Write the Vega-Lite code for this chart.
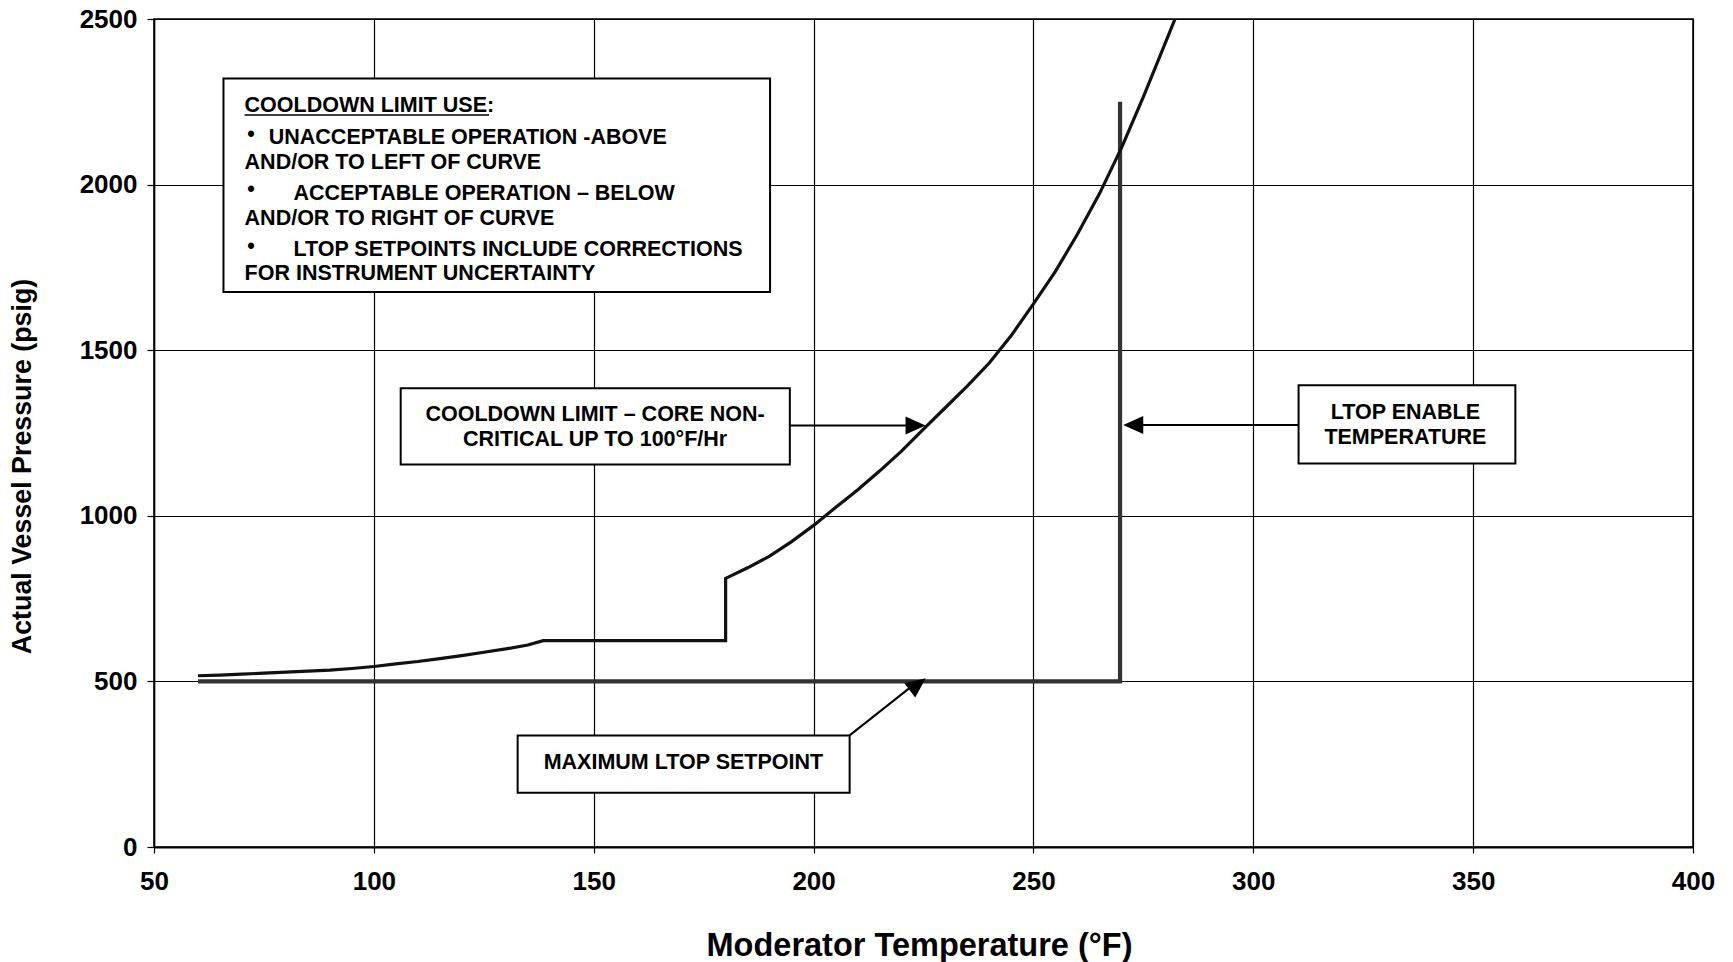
{
  "$schema": "https://vega.github.io/schema/vega-lite/v6.json",
  "width": 1539,
  "height": 828,
  "autosize": {"type": "none"},
  "padding": {"left": 154, "top": 19, "right": 40, "bottom": 115},
  "background": "white",
  "config": {
    "font": "Liberation Sans",
    "view": {"stroke": "#000", "strokeWidth": 1.5}
  },
  "datasets": {
    "curve": [
      {"i": 1, "x": 60, "y": 517},
      {"i": 2, "x": 65, "y": 519},
      {"i": 3, "x": 70, "y": 522},
      {"i": 4, "x": 75, "y": 525},
      {"i": 5, "x": 80, "y": 528},
      {"i": 6, "x": 85, "y": 531},
      {"i": 7, "x": 90, "y": 534},
      {"i": 8, "x": 95, "y": 539},
      {"i": 9, "x": 100, "y": 545},
      {"i": 10, "x": 105, "y": 553},
      {"i": 11, "x": 110, "y": 560},
      {"i": 12, "x": 115, "y": 569},
      {"i": 13, "x": 120, "y": 578},
      {"i": 14, "x": 125, "y": 588},
      {"i": 15, "x": 130, "y": 598},
      {"i": 16, "x": 135, "y": 610},
      {"i": 17, "x": 138.5, "y": 623},
      {"i": 18, "x": 180, "y": 623},
      {"i": 19, "x": 180, "y": 811},
      {"i": 20, "x": 185, "y": 843},
      {"i": 21, "x": 190, "y": 878},
      {"i": 22, "x": 195, "y": 922},
      {"i": 23, "x": 200, "y": 971},
      {"i": 24, "x": 205, "y": 1025},
      {"i": 25, "x": 210, "y": 1078},
      {"i": 26, "x": 215, "y": 1135},
      {"i": 27, "x": 220, "y": 1195},
      {"i": 28, "x": 225, "y": 1262},
      {"i": 29, "x": 230, "y": 1327},
      {"i": 30, "x": 235, "y": 1392},
      {"i": 31, "x": 240, "y": 1462},
      {"i": 32, "x": 245, "y": 1545},
      {"i": 33, "x": 250, "y": 1640},
      {"i": 34, "x": 255, "y": 1738},
      {"i": 35, "x": 260, "y": 1850},
      {"i": 36, "x": 265, "y": 1972},
      {"i": 37, "x": 270, "y": 2110},
      {"i": 38, "x": 275, "y": 2265},
      {"i": 39, "x": 280, "y": 2428},
      {"i": 40, "x": 282.2, "y": 2500}
    ],
    "ltop": [
      {"i": 1, "x": 60, "y": 500},
      {"i": 2, "x": 269.7, "y": 500},
      {"i": 3, "x": 269.7, "y": 2250}
    ],
    "boxes": [
      {"name": "legend", "x": 65.8, "x2": 190.1, "y": 2320, "y2": 1676},
      {"name": "core", "x": 106.1, "x2": 194.6, "y": 1385, "y2": 1155},
      {"name": "enable", "x": 310.3, "x2": 359.6, "y": 1394, "y2": 1158},
      {"name": "max", "x": 132.7, "x2": 208.2, "y": 337, "y2": 164}
    ],
    "arrows": [
      {"name": "core", "x": 194.6, "y": 1273, "x2": 221, "y2": 1273},
      {"name": "enable", "x": 310.3, "y": 1274, "x2": 273, "y2": 1274},
      {"name": "max", "x": 208.2, "y": 337, "x2": 222, "y2": 482}
    ],
    "heads": [
      {"name": "core", "x": 223.2, "y": 1273},
      {"name": "enable", "x": 272.7, "y": 1274},
      {"name": "max", "x": 223.7, "y": 491}
    ],
    "underline": [
      {"x": 70.6, "x2": 126.2, "y": 2210}
    ],
    "legendText": [
      {"x": 70.6, "y": 2236, "t": "COOLDOWN LIMIT USE:"},
      {"x": 71.2, "y": 2150, "t": "•"},
      {"x": 76.1, "y": 2140, "t": "UNACCEPTABLE OPERATION  -ABOVE"},
      {"x": 70.6, "y": 2066, "t": "AND/OR TO LEFT OF CURVE"},
      {"x": 71.2, "y": 1983, "t": "•"},
      {"x": 81.7, "y": 1973, "t": "ACCEPTABLE OPERATION – BELOW"},
      {"x": 70.6, "y": 1896, "t": "AND/OR TO RIGHT OF CURVE"},
      {"x": 71.2, "y": 1812, "t": "•"},
      {"x": 81.7, "y": 1802, "t": "LTOP SETPOINTS INCLUDE CORRECTIONS"},
      {"x": 70.6, "y": 1729, "t": "FOR INSTRUMENT UNCERTAINTY"}
    ],
    "boxText": [
      {"x": 150.3, "y": 1305, "t": "COOLDOWN LIMIT – CORE NON-"},
      {"x": 150.3, "y": 1228, "t": "CRITICAL UP TO 100°F/Hr"},
      {"x": 334.6, "y": 1311, "t": "LTOP ENABLE"},
      {"x": 334.6, "y": 1236, "t": "TEMPERATURE"},
      {"x": 170.4, "y": 254, "t": "MAXIMUM LTOP SETPOINT"}
    ]
  },
  "encoding": {
    "x": {
      "field": "x",
      "type": "quantitative",
      "scale": {"domain": [50, 400], "nice": false, "zero": false},
      "axis": {
        "title": "Moderator Temperature (°F)",
        "values": [50, 100, 150, 200, 250, 300, 350, 400],
        "format": "d",
        "grid": true,
        "gridColor": "#000",
        "gridWidth": 1.2,
        "gridOpacity": 1,
        "domainColor": "#000",
        "domainWidth": 2.2,
        "tickColor": "#000",
        "tickSize": 6,
        "tickWidth": 1.2,
        "labelFont": "Liberation Sans",
        "labelFontSize": 26,
        "labelFontWeight": "bold",
        "labelColor": "#000",
        "labelPadding": 15,
        "labelFlush": false,
        "labelOverlap": false,
        "titleFont": "Liberation Sans",
        "titleFontSize": 32.5,
        "titleFontWeight": "bold",
        "titleColor": "#000",
        "titleX": 765,
        "titleY": 98,
        "titleAlign": "center",
        "titleBaseline": "middle"
      }
    },
    "y": {
      "field": "y",
      "type": "quantitative",
      "scale": {"domain": [0, 2500], "nice": false},
      "axis": {
        "title": "Actual Vessel Pressure (psig)",
        "values": [0, 500, 1000, 1500, 2000, 2500],
        "format": "d",
        "grid": true,
        "gridColor": "#000",
        "gridWidth": 1.2,
        "gridOpacity": 1,
        "domainColor": "#000",
        "domainWidth": 1.5,
        "tickColor": "#000",
        "tickSize": 7,
        "tickWidth": 1.2,
        "labelFont": "Liberation Sans",
        "labelFontSize": 26,
        "labelFontWeight": "bold",
        "labelColor": "#000",
        "labelPadding": 10,
        "labelFlush": false,
        "labelOverlap": false,
        "titleFont": "Liberation Sans",
        "titleFontSize": 26.8,
        "titleFontWeight": "bold",
        "titleColor": "#000",
        "titleAngle": 270,
        "titleX": -132,
        "titleY": 447,
        "titleAlign": "center",
        "titleBaseline": "middle"
      }
    }
  },
  "layer": [
    {
      "data": {"name": "ltop"},
      "mark": {"type": "line", "color": "#333", "strokeWidth": 4.2, "strokeJoin": "miter", "clip": true},
      "encoding": {"order": {"field": "i", "type": "quantitative"}}
    },
    {
      "data": {"name": "curve"},
      "mark": {"type": "line", "color": "#111", "strokeWidth": 3.2, "strokeJoin": "miter", "clip": true},
      "encoding": {"order": {"field": "i", "type": "quantitative"}}
    },
    {
      "data": {"name": "arrows"},
      "mark": {"type": "rule", "color": "#000", "strokeWidth": 2},
      "encoding": {"x2": {"field": "x2"}, "y2": {"field": "y2"}}
    },
    {
      "data": {"name": "heads"},
      "transform": [{"filter": "datum.name === 'core'"}],
      "mark": {"type": "point", "shape": "M1,0L-1,-0.9L-1,0.9Z", "size": 400, "filled": true, "fill": "#000", "opacity": 1, "strokeWidth": 0, "angle": 0}
    },
    {
      "data": {"name": "heads"},
      "transform": [{"filter": "datum.name === 'enable'"}],
      "mark": {"type": "point", "shape": "M1,0L-1,-0.9L-1,0.9Z", "size": 400, "filled": true, "fill": "#000", "opacity": 1, "strokeWidth": 0, "angle": 180}
    },
    {
      "data": {"name": "heads"},
      "transform": [{"filter": "datum.name === 'max'"}],
      "mark": {"type": "point", "shape": "M1,0L-1,-0.9L-1,0.9Z", "size": 400, "filled": true, "fill": "#000", "opacity": 1, "strokeWidth": 0, "angle": 323}
    },
    {
      "data": {"name": "boxes"},
      "mark": {"type": "rect", "fill": "#fff", "stroke": "#000", "strokeWidth": 2},
      "encoding": {"x2": {"field": "x2"}, "y2": {"field": "y2"}}
    },
    {
      "data": {"name": "underline"},
      "mark": {"type": "rule", "color": "#000", "strokeWidth": 1.6},
      "encoding": {"x2": {"field": "x2"}}
    },
    {
      "data": {"name": "legendText"},
      "mark": {"type": "text", "font": "Liberation Sans", "fontSize": 21.5, "fontWeight": "bold", "color": "#000", "align": "left", "baseline": "middle"},
      "encoding": {"text": {"field": "t"}}
    },
    {
      "data": {"name": "boxText"},
      "mark": {"type": "text", "font": "Liberation Sans", "fontSize": 21.5, "fontWeight": "bold", "color": "#000", "align": "center", "baseline": "middle"},
      "encoding": {"text": {"field": "t"}}
    }
  ]
}
